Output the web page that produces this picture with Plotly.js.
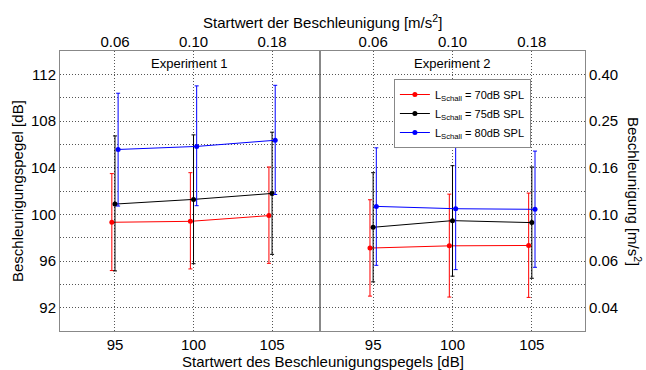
<!DOCTYPE html>
<html>
<head>
<meta charset="utf-8">
<script src="https://cdn.plot.ly/plotly-3.0.1.min.js"></script>
<style>html,body{margin:0;padding:0;background:#fff;}#chart{width:646px;height:370px;}</style>
</head>
<body>
<div id="chart"></div>
<script>
// Categories (start acceleration level, dB) and top-axis labels
const categories = [95, 100, 105];
const topTickLabels = ['0.06', '0.10', '0.18'];
const rightTickVals = [92, 96, 100, 104, 108, 112];
const rightTickLabels = ['0.04', '0.06', '0.10', '0.16', '0.25', '0.40'];
const seriesNames = ['L<sub>Schall</sub> = 70dB SPL', 'L<sub>Schall</sub> = 75dB SPL', 'L<sub>Schall</sub> = 80dB SPL'];

// Experiment 1
const exp1_70 = [99.32, 99.40, 99.89];
const exp1_70_up = [103.49, 103.57, 104.06];
const exp1_70_lo = [95.18, 95.32, 95.80];
const exp1_75 = [100.88, 101.28, 101.79];
const exp1_75_up = [106.72, 106.81, 107.04];
const exp1_75_lo = [95.15, 95.77, 96.57];
const exp1_80 = [105.56, 105.82, 106.35];
const exp1_80_up = [110.38, 111.01, 111.06];
const exp1_80_lo = [100.71, 100.74, 101.70];

// Experiment 2
const exp2_70 = [97.11, 97.30, 97.33];
const exp2_70_up = [101.25, 101.73, 101.82];
const exp2_70_lo = [92.99, 92.91, 92.88];
const exp2_75 = [98.89, 99.46, 99.29];
const exp2_75_up = [103.57, 104.17, 104.06];
const exp2_75_lo = [94.21, 94.70, 94.52];
const exp2_80 = [100.68, 100.48, 100.43];
const exp2_80_up = [105.70, 105.76, 105.42];
const exp2_80_lo = [95.63, 95.26, 95.46];

const colors = ['#ff0000', '#000000', '#0000ff'];
const dodge = [-0.2, 0, 0.2];
const FONT = 'Liberation Sans, Arial, sans-serif';

function mk(vals, up, lo, i, xa, ya, showleg) {
  return {
    x: categories.map(c => c + dodge[i]),
    y: vals,
    xaxis: xa, yaxis: ya,
    type: 'scatter', mode: 'lines+markers',
    name: seriesNames[i],
    showlegend: showleg,
    line: {color: colors[i], width: 1},
    marker: {color: colors[i], size: 5},
    error_y: {
      type: 'data', symmetric: false,
      array: up.map((u, k) => u - vals[k]),
      arrayminus: lo.map((l, k) => vals[k] - l),
      color: colors[i], thickness: 1, width: 2
    }
  };
}

// invisible carriers so the top (secondary) axes are drawn
function carrier(xa, ya) {
  return {x: categories, y: categories.map(() => null), xaxis: xa, yaxis: ya,
    type: 'scatter', mode: 'markers', showlegend: false, hoverinfo: 'skip',
    marker: {opacity: 0}};
}

const data = [
  mk(exp1_70, exp1_70_up, exp1_70_lo, 0, 'x', 'y', false),
  mk(exp1_75, exp1_75_up, exp1_75_lo, 1, 'x', 'y', false),
  mk(exp1_80, exp1_80_up, exp1_80_lo, 2, 'x', 'y', false),
  mk(exp2_70, exp2_70_up, exp2_70_lo, 0, 'x2', 'y2', true),
  mk(exp2_75, exp2_75_up, exp2_75_lo, 1, 'x2', 'y2', true),
  mk(exp2_80, exp2_80_up, exp2_80_lo, 2, 'x2', 'y2', true),
  carrier('x3', 'y'),
  carrier('x4', 'y2')
];

const gridVals = [92, 94, 96, 98, 100, 102, 104, 106, 108, 110, 112];
const leftText = gridVals.map(v => (rightTickVals.indexOf(v) >= 0 ? String(v) : ''));
const rightText = gridVals.map(v => {
  const k = rightTickVals.indexOf(v);
  return k >= 0 ? rightTickLabels[k] : '';
});

const split = 0.4952;
const xr1 = [91.5, 108.05];
const xr2 = [91.65, 108.35];
const TF = {size: 15, color: '#000', family: FONT};
const GRID = {showgrid: true, gridcolor: '#555', griddash: '1px,2px', gridwidth: 1};
const baseX = Object.assign({
  tickmode: 'array', tickvals: categories, ticktext: categories.map(String),
  showline: true, mirror: true, linecolor: '#888', linewidth: 1,
  zeroline: false, ticks: '', tickfont: TF
}, GRID);
const baseY = Object.assign({
  range: [90, 114], tickmode: 'array', tickvals: gridVals,
  showline: true, mirror: true, linecolor: '#888', linewidth: 1,
  zeroline: false, ticks: '', tickfont: TF
}, GRID);
const topX = {
  tickmode: 'array', tickvals: categories, ticktext: topTickLabels,
  side: 'top', showgrid: false, zeroline: false, ticks: '', showline: false,
  tickfont: TF
};

const layout = {
  width: 646, height: 370,
  margin: {l: 60, r: 61, t: 51, b: 39},
  paper_bgcolor: '#fff', plot_bgcolor: '#fff',
  font: {family: FONT, color: '#000', size: 12},
  xaxis: Object.assign({}, baseX, {domain: [0, split], anchor: 'y', range: xr1}),
  xaxis2: Object.assign({}, baseX, {domain: [split, 1], anchor: 'y2', range: xr2}),
  xaxis3: Object.assign({}, topX, {overlaying: 'x', anchor: 'y', range: xr1}),
  xaxis4: Object.assign({}, topX, {overlaying: 'x2', anchor: 'y2', range: xr2}),
  yaxis: Object.assign({}, baseY, {anchor: 'x', ticktext: leftText}),
  yaxis2: Object.assign({}, baseY, {anchor: 'x2', side: 'right', ticktext: rightText}),
  showlegend: true,
  legend: {
    x: 0.636, y: 0.9, xanchor: 'left', yanchor: 'top',
    bgcolor: '#fff', bordercolor: '#888', borderwidth: 1,
    font: {size: 11, family: FONT, color: '#000'},
    tracegroupgap: 0
  },
  annotations: [
    {text: 'Experiment 1', xref: 'x domain', yref: 'paper', x: 0.5, y: 1, yshift: -12, yanchor: 'middle', showarrow: false, font: {size: 13}},
    {text: 'Experiment 2', xref: 'x2 domain', yref: 'paper', x: 0.5, y: 1, yshift: -12, yanchor: 'middle', showarrow: false, font: {size: 13}},
    {text: 'Startwert der Beschleunigung [m/s<sup>2</sup>]', xref: 'paper', yref: 'paper', x: 0.5, y: 1, yshift: 30, yanchor: 'middle', showarrow: false, font: {size: 15}},
    {text: 'Startwert des Beschleunigungspegels [dB]', xref: 'paper', yref: 'paper', x: 0.5, y: 0, yshift: -30, yanchor: 'middle', showarrow: false, font: {size: 15}},
    {text: 'Beschleunigungspegel [dB]', xref: 'paper', yref: 'paper', x: 0, xshift: -43, y: 0.5, textangle: -90, xanchor: 'center', showarrow: false, font: {size: 15}},
    {text: 'Beschleunigung [m/s<sup>2</sup>]', xref: 'paper', yref: 'paper', x: 1, xshift: 50, y: 0.5, textangle: 90, xanchor: 'center', showarrow: false, font: {size: 15}}
  ]
};

Plotly.newPlot('chart', data, layout, {staticPlot: true, displayModeBar: false});
</script>
</body>
</html>
